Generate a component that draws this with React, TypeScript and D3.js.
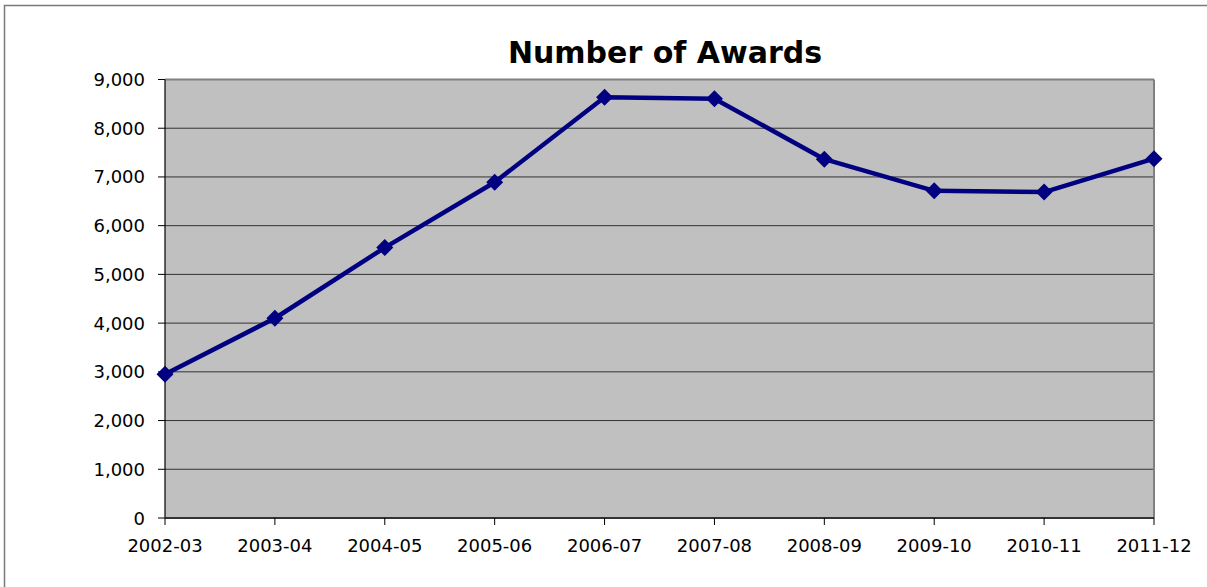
import React from "react";
import * as d3 from "d3";

const categories = ["2002-03", "2003-04", "2004-05", "2005-06", "2006-07", "2007-08", "2008-09", "2009-10", "2010-11", "2011-12"];
const awards = [2950, 4100, 5550, 6890, 8635, 8605, 7365, 6715, 6690, 7375];
const yTicks = [0, 1000, 2000, 3000, 4000, 5000, 6000, 7000, 8000, 9000];
const title = "Number of Awards";

const W = 1207;
const H = 587;
const left = 165;
const right = 1154;
const top = 79.5;
const bottom = 518;

export default function App() {
  const x = d3.scalePoint<string>().domain(categories).range([left, right]);
  const y = d3.scaleLinear().domain([0, 9000]).range([bottom, top]);
  const line = d3
    .line<number>()
    .x((_, i) => x(categories[i]) as number)
    .y((d) => y(d));
  const fmt = d3.format(",");
  const font = "'DejaVu Sans', Verdana, sans-serif";

  return (
    <svg width={W} height={H} style={{ position: "absolute", left: 0, top: 0, display: "block" }}>
      <rect x={0} y={0} width={W} height={H} fill="#fff" />
      <rect x={4.5} y={5.5} width={W + 20} height={H + 20} fill="none" stroke="#7a7a7a" strokeWidth={1.5} />
      <text x={665} y={62.5} textAnchor="middle" fontFamily={font} fontWeight="bold" fontSize={30} fill="#000">
        {title}
      </text>
      <rect x={left} y={top} width={right - left} height={bottom - top} fill="#c0c0c0" />
      {yTicks.slice(1, -1).map((t) => (
        <line key={t} x1={left} x2={right} y1={y(t)} y2={y(t)} stroke="#333" strokeWidth={1} />
      ))}
      <line x1={left} x2={right} y1={top} y2={top} stroke="#808080" strokeWidth={2} />
      <line x1={right} x2={right} y1={top} y2={bottom} stroke="#808080" strokeWidth={2} />
      <line x1={left} x2={left} y1={top} y2={bottom} stroke="#000" strokeWidth={1.2} />
      <line x1={left} x2={right} y1={bottom} y2={bottom} stroke="#333" strokeWidth={2} />
      {yTicks.map((t) => (
        <g key={t}>
          <line x1={left - 7} x2={left} y1={y(t)} y2={y(t)} stroke="#000" strokeWidth={1} />
          <text x={145} y={y(t) + 6.5} textAnchor="end" fontFamily={font} fontSize={18} fill="#000">
            {fmt(t)}
          </text>
        </g>
      ))}
      {categories.map((c) => (
        <g key={c}>
          <line x1={x(c)} x2={x(c)} y1={bottom} y2={bottom + 7} stroke="#000" strokeWidth={1} />
          <text x={x(c)} y={551.5} textAnchor="middle" fontFamily={font} fontSize={18} fill="#000">
            {c}
          </text>
        </g>
      ))}
      <path d={line(awards) as string} fill="none" stroke="#000080" strokeWidth={4.5} strokeLinejoin="round" />
      {awards.map((v, i) => {
        const cx = x(categories[i]) as number;
        const cy = y(v);
        const r = 8.5;
        return (
          <path
            key={i}
            d={`M${cx},${cy - r}L${cx + r},${cy}L${cx},${cy + r}L${cx - r},${cy}Z`}
            fill="#000080"
          />
        );
      })}
    </svg>
  );
}
